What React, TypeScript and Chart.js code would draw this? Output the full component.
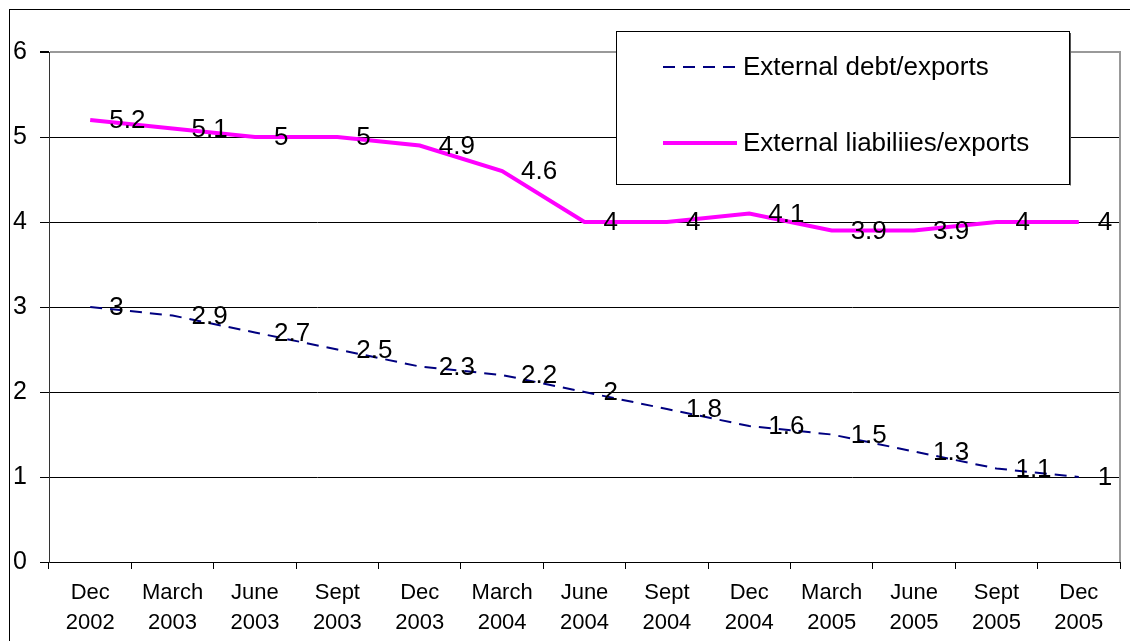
import React, { useEffect, useRef } from "react";
import { Chart, registerables } from "chart.js";

Chart.register(...registerables);

const categories: string[][] = [
  ["Dec", "2002"], ["March", "2003"], ["June", "2003"], ["Sept", "2003"],
  ["Dec", "2003"], ["March", "2004"], ["June", "2004"], ["Sept", "2004"],
  ["Dec", "2004"], ["March", "2005"], ["June", "2005"], ["Sept", "2005"],
  ["Dec", "2005"],
];
const debtExports: number[] = [3, 2.9, 2.7, 2.5, 2.3, 2.2, 2, 1.8, 1.6, 1.5, 1.3, 1.1, 1];
const liabilitiesExports: number[] = [5.2, 5.1, 5, 5, 4.9, 4.6, 4, 4, 4.1, 3.9, 3.9, 4, 4];
const seriesNames: string[] = ["External debt/exports", "External liabiliies/exports"];
const yTicks: number[] = [0, 1, 2, 3, 4, 5, 6];

const FONT = "Arial, 'Liberation Sans', sans-serif";

const decorPlugin = {
  id: "decor",
  afterDatasetsDraw(chart: any) {
    const ctx = chart.ctx;
    const area = chart.chartArea;
    // right gray border of plot area
    ctx.save();
    ctx.strokeStyle = "#999999";
    ctx.lineWidth = 2;
    ctx.beginPath();
    ctx.moveTo(area.right, area.top - 1);
    ctx.lineTo(area.right, area.bottom);
    ctx.stroke();
    ctx.restore();
    // data labels
    ctx.save();
    ctx.font = `26px ${FONT}`;
    ctx.fillStyle = "#000";
    ctx.textAlign = "left";
    ctx.textBaseline = "middle";
    chart.data.datasets.forEach((ds: any, i: number) => {
      const meta = chart.getDatasetMeta(i);
      meta.data.forEach((pt: any, j: number) => {
        ctx.fillText(String(ds.data[j]), pt.x + 19, pt.y + 1);
      });
    });
    ctx.restore();
  },
  afterDraw(chart: any) {
    const ctx = chart.ctx;
    // legend box
    const bx = 616, by = 31, bw = 453, bh = 153;
    ctx.save();
    ctx.fillStyle = "#ffffff";
    ctx.fillRect(bx, by, bw, bh);
    ctx.strokeStyle = "#000";
    ctx.lineWidth = 1;
    ctx.strokeRect(bx + 0.5, by + 0.5, bw, bh);
    ctx.strokeStyle = "#555";
    ctx.beginPath();
    ctx.moveTo(bx + bw + 1.5, by + 2);
    ctx.lineTo(bx + bw + 1.5, by + bh + 1.5);
    ctx.stroke();
    const rows = [67, 143];
    chart.data.datasets.forEach((ds: any, i: number) => {
      const y = rows[i];
      ctx.beginPath();
      ctx.strokeStyle = ds.borderColor;
      ctx.lineWidth = ds.borderWidth;
      ctx.setLineDash(ds.borderDash || []);
      ctx.moveTo(663, y);
      ctx.lineTo(737, y);
      ctx.stroke();
      ctx.setLineDash([]);
      ctx.fillStyle = "#000";
      ctx.font = `26px ${FONT}`;
      ctx.textAlign = "left";
      ctx.textBaseline = "middle";
      ctx.fillText(ds.label, 743, y + 1);
    });
    // outer border
    ctx.strokeStyle = "#000";
    ctx.lineWidth = 1;
    ctx.strokeRect(9.5, 9.5, 1200, 700);
    ctx.restore();
  },
};

export default function App() {
  const ref = useRef<HTMLCanvasElement | null>(null);
  useEffect(() => {
    document.body.style.margin = "0";
    const canvas = ref.current;
    if (!canvas) return;
    const chart = new Chart(canvas, {
      type: "line",
      data: {
        labels: categories,
        datasets: [
          {
            label: seriesNames[0],
            data: debtExports,
            borderColor: "#000080",
            borderWidth: 2,
            borderDash: [12, 8],
            pointRadius: 0,
            tension: 0,
            fill: false,
          },
          {
            label: seriesNames[1],
            data: liabilitiesExports,
            borderColor: "#FF00FF",
            borderWidth: 4,
            pointRadius: 0,
            tension: 0,
            fill: false,
          },
        ],
      },
      options: {
        responsive: false,
        animation: false,
        layout: { padding: { left: 0, right: 10, top: 52, bottom: 0 } },
        plugins: {
          legend: { display: false },
          tooltip: { enabled: false },
        },
        scales: {
          x: {
            type: "category",
            offset: true,
            grid: {
              offset: true,
              drawOnChartArea: false,
              drawTicks: true,
              tickLength: 7,
              color: "#000",
            },
            border: { display: true, color: "#000", width: 1 },
            ticks: {
              color: "#000",
              font: { family: FONT, size: 22, lineHeight: 1.36 },
              maxRotation: 0,
              autoSkip: false,
              padding: 9,
            },
            afterFit: (scale: any) => {
              scale.height = 79;
            },
          },
          y: {
            min: 0,
            max: 6,
            afterBuildTicks: (scale: any) => {
              scale.ticks = yTicks.map((v) => ({ value: v }));
            },
            grid: {
              color: (c: any) => (c.tick && c.tick.value === 6 ? "#999999" : "#000000"),
              lineWidth: (c: any) => (c.tick && c.tick.value === 6 ? 2 : 1),
              tickColor: "#000",
              tickLength: 9,
            },
            border: { display: true, color: "#333", width: 1 },
            ticks: {
              color: "#000",
              font: { family: FONT, size: 25 },
              padding: 13,
            },
            afterFit: (scale: any) => {
              scale.width = 49;
            },
          },
        },
      },
      plugins: [decorPlugin],
    });
    return () => chart.destroy();
  }, []);
  return (
    <div style={{ position: "absolute", left: 0, top: 0, width: 1130, height: 641, background: "#fff" }}>
      <canvas ref={ref} width={1130} height={641} style={{ width: 1130, height: 641, display: "block" }} />
    </div>
  );
}
